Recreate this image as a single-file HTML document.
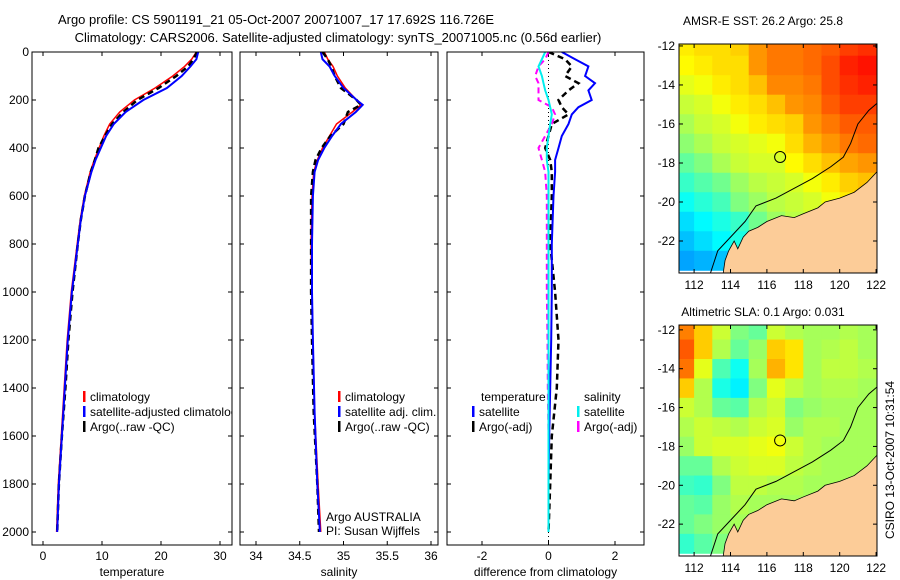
<!DOCTYPE html>
<html><head><meta charset="utf-8"><style>
body{margin:0;background:#fff;}
svg{display:block;font-family:"Liberation Sans",sans-serif;}
</style></head><body>
<svg id="fig" width="900" height="580" viewBox="0 0 900 580">
<text x="276" y="24" font-size="13" text-anchor="middle">Argo profile: CS 5901191_21 05-Oct-2007 20071007_17 17.692S 116.726E</text>
<text x="338" y="42" font-size="13" text-anchor="middle">Climatology: CARS2006. Satellite-adjusted climatology: synTS_20071005.nc (0.56d earlier)</text>
<text x="763" y="25" font-size="12" text-anchor="middle">AMSR-E SST: 26.2 Argo: 25.8</text>
<text x="763" y="316" font-size="12" text-anchor="middle">Altimetric SLA: 0.1 Argo: 0.031</text>
<text transform="translate(894,460) rotate(-90)" font-size="12" text-anchor="middle">CSIRO 13-Oct-2007 10:31:54</text>
</svg>
<script>
// ---- profile data ----
const tempDepth=[0,30,60,100,150,200,250,300,350,400,450,500,600,700,800,1000,1200,1400,1600,1800,2000];
const tempClim=[26,25.2,24,22,19,15.5,13,11.3,10.3,9.5,8.7,8,7,6.3,5.8,4.8,4.1,3.6,3.1,2.6,2.3];
const tempSat=[26.3,26,25,23.5,21,17,14,12,10.7,9.8,8.9,8.2,7.1,6.4,5.9,4.9,4.2,3.7,3.2,2.7,2.4];
const tempArgo=[26.1,25.5,24.6,22.6,19.6,16,13.6,11.7,10.5,9.4,8.8,8.1,7.1,6.4,5.9,5,4.3,3.8,3.2,2.7,2.4];
const salDepth=[0,30,60,100,150,200,220,250,300,350,400,450,500,600,800,1000,1200,1500,1800,2000];
const salClim=[34.78,34.82,34.88,34.93,35.02,35.15,35.2,35.1,34.92,34.84,34.76,34.7,34.66,34.64,34.63,34.64,34.65,34.67,34.71,34.74];
const salSat=[34.74,34.76,34.84,34.9,35.0,35.15,35.22,35.14,34.97,34.87,34.78,34.71,34.67,34.65,34.64,34.64,34.65,34.67,34.7,34.73];
const salArgo=[34.76,34.82,34.86,34.9,34.97,35.15,35.2,35.05,35.0,34.85,34.75,34.68,34.65,34.63,34.63,34.63,34.64,34.66,34.7,34.72];
const diffDepth=[0,30,60,100,130,160,200,230,260,300,350,400,450,500,600,800,1000,1200,1400,1600,1800,2000];
const dTempSat=[0.4,0.8,1.2,1.1,1.4,1.2,1.3,0.9,0.7,0.6,0.4,0.3,0.2,0.2,0.15,0.1,0.1,0.08,0.05,0.02,0,0];
const dTempArgo=[0,0.5,0.7,0.5,0.9,0.6,0.3,0.4,0.6,0.1,0.0,-0.1,0.05,0.1,0.1,0.05,0.2,0.3,0.25,0.1,0.05,0];
const dSalSat=[-0.1,-0.2,-0.3,-0.2,-0.15,-0.1,0.0,0.05,0.1,0.05,0.0,-0.05,-0.05,0.0,0.0,0.0,0.0,0.0,0.0,0.0,0.0,0.0];
const dSalArgo=[0,-0.1,-0.3,-0.4,-0.3,-0.3,-0.3,0.1,0.2,0.1,-0.1,-0.3,-0.2,-0.1,-0.05,-0.05,-0.05,-0.03,-0.02,0,0,0];
const depthTicks=[0,200,400,600,800,1000,1200,1400,1600,1800,2000];
const tempTicks=[0,10,20,30];
const salTicks=[34,34.5,35,35.5,36];
const diffTicks=[-2,0,2];
// ---- map data (rows lat -12..-23, cols lon 111.5..121.5) ----
const mapLats=[-12,-13,-14,-15,-16,-17,-18,-19,-20,-21,-22,-23];
const mapLons=[111.5,112.5,113.5,114.5,115.5,116.5,117.5,118.5,119.5,120.5,121.5];
const sstGrid=[
[26.0,26.1,26.1,26.2,26.6,26.8,26.8,26.9,27.0,27.2,27.3],
[25.9,26.0,26.1,26.1,26.6,26.8,26.8,26.9,27.1,27.4,27.5],
[25.7,25.8,26.0,26.1,26.3,26.7,26.7,26.8,27.1,27.3,27.4],
[25.5,25.6,25.8,26.0,26.1,26.3,26.6,26.7,27.0,27.2,27.2],
[25.3,25.5,25.6,25.8,26.0,26.1,26.2,26.6,26.8,27.0,27.0],
[25.1,25.3,25.5,25.6,25.7,25.8,26.1,26.4,26.6,26.8,26.9],
[24.8,25.0,25.3,25.5,25.6,25.6,25.9,26.1,26.3,26.5,26.6],
[24.5,24.7,24.9,25.2,25.4,25.5,25.6,25.8,26.0,26.2,26.3],
[24.2,24.4,24.6,25.0,25.2,25.4,25.5,25.6,25.8,26.0,26.1],
[23.9,24.1,24.3,24.5,24.9,25.2,25.4,25.5,25.7,25.9,26.0],
[23.7,23.9,24.1,24.3,24.6,25.0,25.3,25.4,25.6,25.8,25.9],
[23.5,23.6,23.7,23.4,24.4,24.8,25.2,25.3,25.5,25.7,25.8]];
const slaGrid=[
[0.2,0.14,0.06,0.0,-0.02,0.06,0.04,0.03,0.03,0.04,0.03],
[0.23,0.14,0.04,-0.02,0.02,0.14,0.12,0.03,0.04,0.05,0.03],
[0.21,0.08,-0.04,-0.09,0.03,0.16,0.12,0.03,0.05,0.05,0.04],
[0.14,0.04,-0.08,-0.11,0.0,0.08,0.05,0.03,0.04,0.04,0.03],
[0.06,0.04,-0.02,-0.03,0.04,0.06,0.0,0.02,0.03,0.03,0.03],
[0.04,0.06,0.05,0.04,0.06,0.07,0.02,0.04,0.04,0.03,0.03],
[0.02,0.06,0.07,0.07,0.08,0.09,0.06,0.04,0.03,0.03,0.03],
[-0.02,-0.02,0.04,0.06,0.07,0.07,0.05,0.04,0.03,0.03,0.03],
[-0.05,-0.06,0.0,0.05,0.05,0.04,0.04,0.03,0.03,0.03,0.03],
[-0.02,-0.03,0.02,0.04,0.03,0.03,0.03,0.03,0.03,0.03,0.03],
[-0.02,0.0,0.02,0.03,0.03,0.03,0.03,0.03,0.03,0.03,0.03],
[-0.06,-0.03,0.0,0.03,0.03,0.03,0.03,0.03,0.03,0.03,0.03]];
const coastLon=[113.6,113.7,113.9,114.2,114.4,114.7,115,115.5,116,116.8,117.5,118,118.8,119.2,120,120.8,121.5,122.1];
const coastLat=[-23.64,-23.0,-22.5,-22.0,-22.4,-21.8,-21.5,-21.3,-21.0,-20.7,-20.8,-20.6,-20.3,-20.0,-19.8,-19.5,-19.0,-18.4];
const isoLon=[112.9,113.3,114,114.8,115.4,116.5,117.5,118.5,119.5,120.2,120.6,121,121.6,122.1];
const isoLat=[-23.64,-22.5,-21.8,-21,-20.2,-19.8,-19.3,-18.8,-18.2,-17.7,-17,-16,-15.3,-14.9];
const floatLon=116.726, floatLat=-17.692;
const xTicksMap=[112,114,116,118,120,122];
const yTicksMap=[-12,-14,-16,-18,-20,-22];

const NS='http://www.w3.org/2000/svg';
const svg=document.getElementById('fig');
function mk(tag,attrs,parent){const e=document.createElementNS(NS,tag);for(const k in attrs)e.setAttribute(k,attrs[k]);(parent||svg).appendChild(e);return e;}
function lin(d0,d1,r0,r1){return v=>r0+(v-d0)*(r1-r0)/(d1-d0);}

const yDepth=lin(0,2000,52,532);
const panels=[
 {x0:32,x1:232,sx:lin(0,30,43,220),ticks:tempTicks,label:'temperature',name:'temperature'},
 {x0:240,x1:438,sx:lin(34,36,256,431),ticks:salTicks,label:'salinity',name:'salinity'},
 {x0:447,x1:644,sx:lin(-2,2,482,615),ticks:diffTicks,label:'difference from climatology',name:'difference'}];
const ptop=52,pbot=545;
panels.forEach((p,i)=>{
 const g=mk('g',{});
 
 
 const cp=mk('clipPath',{id:'cp'+i},g);mk('rect',{x:p.x0,y:ptop,width:p.x1-p.x0,height:pbot-ptop},cp);
 p.g=g;p.clip='url(#cp'+i+')';
 p.ticks.forEach(t=>{const x=p.sx(t);
  mk('line',{x1:x,y1:pbot,x2:x,y2:pbot-4,stroke:'#000'},g);mk('line',{x1:x,y1:ptop,x2:x,y2:ptop+4,stroke:'#000'},g);
  const tx=mk('text',{x:x,y:pbot+15,'font-size':12,'text-anchor':'middle'},g);tx.textContent=String(t);
  
  });
 depthTicks.forEach(d=>{const y=yDepth(d);
  mk('line',{x1:p.x0,y1:y,x2:p.x0+4,y2:y,stroke:'#000'},g);mk('line',{x1:p.x1,y1:y,x2:p.x1-4,y2:y,stroke:'#000'},g);
  if(i===0){const tx=mk('text',{x:p.x0-3,y:y+4,'font-size':12,'text-anchor':'end'},g);tx.textContent=String(d);
   
   }});
 const lb=mk('text',{x:(p.x0+p.x1)/2,y:576,'font-size':12,'text-anchor':'middle'},g);lb.textContent=p.label;
 
 
});
function line(p,xs,ds,color,w,dash,name){
 const pts=xs.map((v,k)=>p.sx(v).toFixed(1)+','+yDepth(ds[k]).toFixed(1)).join(' ');
 const e=mk('polyline',{points:pts,fill:'none',stroke:color,'stroke-width':w,'clip-path':p.clip},p.g);
 if(dash)e.setAttribute('stroke-dasharray',dash);
 
 
}
const P=panels;
mk('line',{x1:P[2].sx(0),y1:ptop,x2:P[2].sx(0),y2:pbot,stroke:'#000','stroke-dasharray':'1,3'},P[2].g);
line(P[0],tempClim,tempDepth,'#f00',1.5,null,'temp-climatology-line');
line(P[0],tempArgo,tempDepth,'#000',2.5,'6,4','temp-argo-line');
line(P[0],tempSat,tempDepth,'#00f',2,null,'temp-satellite-line');
line(P[1],salClim,salDepth,'#f00',1.5,null,'sal-climatology-line');
line(P[1],salArgo,salDepth,'#000',2.5,'6,4','sal-argo-line');
line(P[1],salSat,salDepth,'#00f',2,null,'sal-satellite-line');
line(P[2],dTempArgo,diffDepth,'#000',2.5,'6,4','dtemp-argo-line');
line(P[2],dTempSat,diffDepth,'#00f',2,null,'dtemp-satellite-line');
line(P[2],dSalArgo,diffDepth,'#f0f',2,'6,4','dsal-argo-line');
line(P[2],dSalSat,diffDepth,'#0ee',2,null,'dsal-satellite-line');
panels.forEach(p=>{mk('rect',{x:p.x0,y:ptop,width:p.x1-p.x0,height:pbot-ptop,fill:'none',stroke:'#000'},p.g);});
function leg(p,x,y,color,text,name){
 const g=mk('g',{'clip-path':p.clip},p.g);
 
 
 if(color)mk('rect',{x:x-7,y:y-10,width:2.5,height:11,fill:color},g);
 const t=mk('text',{x:x,y:y,'font-size':12},g);t.textContent=text;
}
leg(P[0],90,401,'#f00','climatology','legend-climatology');
leg(P[0],90,416,'#00f','satellite-adjusted climatology','legend-satellite');
leg(P[0],90,431,'#000','Argo(..raw -QC)','legend-argo');
leg(P[1],345,401,'#f00','climatology','legend-climatology');
leg(P[1],345,416,'#00f','satellite adj. clim.','legend-satellite');
leg(P[1],345,431,'#000','Argo(..raw -QC)','legend-argo');
leg(P[1],326,521,null,'Argo AUSTRALIA','credit-line-1');
leg(P[1],326,535,null,'PI: Susan Wijffels','credit-line-2');
leg(P[2],481,401,null,'temperature','legend-temperature-header');
leg(P[2],479,416,'#00f','satellite','legend-temp-satellite');
leg(P[2],479,431,'#000','Argo(-adj)','legend-temp-argo');
leg(P[2],584,401,null,'salinity','legend-salinity-header');
leg(P[2],584,416,'#0ee','satellite','legend-sal-satellite');
leg(P[2],584,431,'#f0f','Argo(-adj)','legend-sal-argo');

// ---- maps ----
function jet(t){t=Math.max(0,Math.min(1,t));const c=v=>Math.round(255*Math.max(0,Math.min(1,v)));
 return 'rgb('+c(1.5-Math.abs(4*t-3))+','+c(1.5-Math.abs(4*t-2))+','+c(1.5-Math.abs(4*t-1))+')';}
function map(id,y0,y1,lat0,lat1,grid,vmin,vmax){
 const x0=679,x1=877;const sx=lin(111.17,122.05,x0,x1),sy=lin(lat0,lat1,y0,y1);
 const g=mk('g',{});
 
 
 const cp=mk('clipPath',{id:'cp'+id},g);mk('rect',{x:x0,y:y0,width:x1-x0,height:y1-y0},cp);
 const cg=mk('g',{'clip-path':'url(#cp'+id+')'},g);
 mapLats.forEach((la,r)=>mapLons.forEach((lo,c)=>{
  const xa=sx(lo-0.5),xb=sx(lo+0.5),ya=sy(la+0.5),yb=sy(la-0.5);
  const e=mk('rect',{x:xa,y:ya,width:xb-xa+0.5,height:yb-ya+0.5,fill:jet((grid[r][c]-vmin)/(vmax-vmin))},cg);
  
  
 }));
 const land=coastLon.map((lo,k)=>sx(lo)+','+sy(coastLat[k])).join(' ')+' '+sx(122.3)+','+sy(coastLat[coastLat.length-1])+' '+sx(122.3)+','+sy(-24)+' '+sx(113.6)+','+sy(-24);
 const L=mk('polygon',{points:land,fill:'#fccc98',stroke:'#000','stroke-width':0.8},cg);
 
 
 const iso=mk('polyline',{points:isoLon.map((lo,k)=>sx(lo)+','+sy(isoLat[k])).join(' '),fill:'none',stroke:'#000','stroke-width':1},cg);
 
 
 const fc=mk('circle',{cx:sx(floatLon),cy:sy(floatLat),r:5.5,fill:'none',stroke:'#000','stroke-width':1},g);
 
 
 mk('rect',{x:x0,y:y0,width:x1-x0,height:y1-y0,fill:'none',stroke:'#000'},g);
 xTicksMap.forEach(t=>{const x=sx(t);mk('line',{x1:x,y1:y1,x2:x,y2:y1-4,stroke:'#000'},g);mk('line',{x1:x,y1:y0,x2:x,y2:y0+4,stroke:'#000'},g);
  const tx=mk('text',{x:x,y:y1+16,'font-size':12,'text-anchor':'middle'},g);tx.textContent=String(t);
  
  });
 yTicksMap.forEach(t=>{const y=sy(t);mk('line',{x1:x0,y1:y,x2:x0+4,y2:y,stroke:'#000'},g);mk('line',{x1:x1,y1:y,x2:x1-4,y2:y,stroke:'#000'},g);
  const tx=mk('text',{x:x0-4,y:y+4,'font-size':12,'text-anchor':'end'},g);tx.textContent=String(t);
  
  });
}
map('sst-map',44,273,-11.9,-23.64,sstGrid,21.5,28.5);
map('sla-map',325,556,-11.75,-23.64,slaGrid,-0.4,0.4);
</script>
</body></html>
